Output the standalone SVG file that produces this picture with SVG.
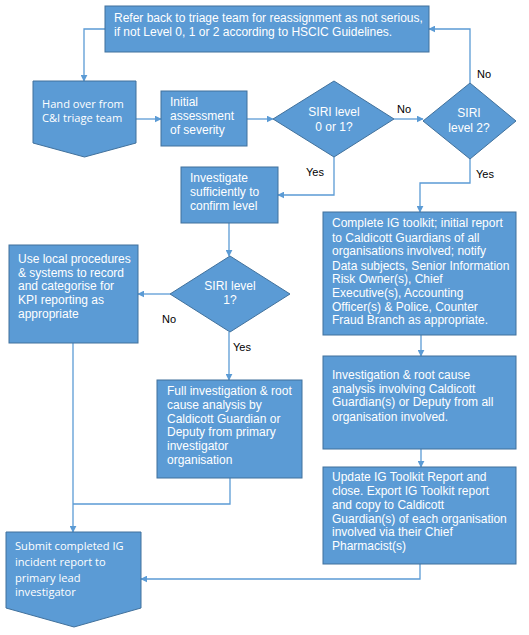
<svg xmlns="http://www.w3.org/2000/svg" width="529" height="635" viewBox="0 0 529 635">
<defs>
<marker id="ah" viewBox="0 0 10 10" refX="9" refY="5" markerWidth="7" markerHeight="7" markerUnits="userSpaceOnUse" orient="auto">
<path d="M0,0 L10,5 L0,10 z" fill="#5B9BD5"/>
</marker>
<style>
.n{fill:#5B9BD5;stroke:#41719C;stroke-width:1}
.t{font-family:"Liberation Sans",Arial,sans-serif;font-size:12px;fill:#fff}
.s{font-family:"Open Sans","Noto Sans",sans-serif;font-size:11.1px;fill:#fff}
.c{fill:none;stroke:#5B9BD5;stroke-width:1.3;marker-end:url(#ah)}
.l{fill:none;stroke:#5B9BD5;stroke-width:1.3}
.lb{font-family:"Liberation Sans",Arial,sans-serif;font-size:11px;fill:#000}
</style>
</defs>
<g id="connectors">
<path class="c" d="M105,29 H84 V81"/>
<path class="c" d="M136,119 H161"/>
<path class="c" d="M247,119 H273"/>
<path class="c" d="M394,119 H423"/>
<path class="c" d="M470,83 V29 H429"/>
<path class="c" d="M334,157 V195 H278"/>
<path class="c" d="M470,159 V183 H420 V212"/>
<path class="c" d="M229,223 V256"/>
<path class="c" d="M170,294 H138"/>
<path class="c" d="M229,332 V380"/>
<path class="c" d="M421,335 V356"/>
<path class="c" d="M421,449 V467"/>
<path class="l" d="M230,478 V504 H73"/>
<path class="c" d="M73,343 V532"/>
<path class="c" d="M420,564 V579 H141"/>
</g>
<g id="labels">
<text class="lb" x="397" y="113">No</text>
<text class="lb" x="477" y="78">No</text>
<text class="lb" x="306" y="176">Yes</text>
<text class="lb" x="476" y="178">Yes</text>
<text class="lb" x="162" y="323">No</text>
<text class="lb" x="233" y="351">Yes</text>
</g>
<g id="refer">
<rect class="n" x="105" y="6" width="324" height="46"/>
<text class="t" x="114" y="21.5">Refer back to triage team for reassignment as not serious,</text>
<text class="t" x="114" y="35.5">if not Level 0, 1 or 2 according to HSCIC Guidelines.</text>
</g>
<g id="handover">
<path class="n" d="M33,81 H136 V143 L84.5,157 L33,143 Z"/>
<text class="s" x="42" y="108">Hand over from</text>
<text class="s" x="42" y="122">C&amp;I triage team</text>
</g>
<g id="initial">
<rect class="n" x="161" y="91" width="86" height="55"/>
<text class="t" x="170" y="106">Initial</text>
<text class="t" x="170" y="120">assessment</text>
<text class="t" x="170" y="133.5">of severity</text>
</g>
<g id="siri01">
<path class="n" d="M334,81 L394,119 L334,157 L273,119 Z"/>
<text class="t" x="334" y="116" text-anchor="middle">SIRI level</text>
<text class="t" x="334" y="131" text-anchor="middle">0 or 1?</text>
</g>
<g id="siri2">
<path class="n" d="M470,83 L516,121 L470,159 L423,121 Z"/>
<text class="t" x="469" y="117" text-anchor="middle">SIRI</text>
<text class="t" x="469" y="132" text-anchor="middle">level 2?</text>
</g>
<g id="investigate">
<rect class="n" x="181" y="167" width="97" height="56"/>
<text class="t" x="190" y="182">Investigate</text>
<text class="t" x="190" y="196">sufficiently to</text>
<text class="t" x="190" y="209.5">confirm level</text>
</g>
<g id="siri1">
<path class="n" d="M230,256 L290,294 L230,332 L170,294 Z"/>
<text class="t" x="230" y="290" text-anchor="middle">SIRI level</text>
<text class="t" x="230" y="304" text-anchor="middle">1?</text>
</g>
<g id="uselocal">
<rect class="n" x="9" y="245" width="129" height="98"/>
<text class="t" x="18" y="263">Use local procedures</text>
<text class="t" x="18" y="277">&amp; systems to record</text>
<text class="t" x="18" y="290">and categorise for</text>
<text class="t" x="18" y="304">KPI reporting as</text>
<text class="t" x="18" y="318">appropriate</text>
</g>
<g id="complete">
<rect class="n" x="323" y="212" width="193" height="123"/>
<text class="t" x="332" y="227">Complete IG toolkit; initial report</text>
<text class="t" x="332" y="242">to Caldicott Guardians of all</text>
<text class="t" x="332" y="255">organisations involved; notify</text>
<text class="t" x="332" y="270">Data subjects, Senior Information</text>
<text class="t" x="332" y="283">Risk Owner(s), Chief</text>
<text class="t" x="332" y="297">Executive(s), Accounting</text>
<text class="t" x="332" y="311">Officer(s) &amp; Police, Counter</text>
<text class="t" x="332" y="324">Fraud Branch as appropriate.</text>
</g>
<g id="fullinv">
<rect class="n" x="157" y="380" width="145" height="98"/>
<text class="t" x="167" y="395">Full investigation &amp; root</text>
<text class="t" x="167" y="409">cause analysis by</text>
<text class="t" x="167" y="423">Caldicott Guardian or</text>
<text class="t" x="167" y="436">Deputy from primary</text>
<text class="t" x="167" y="450">investigator</text>
<text class="t" x="167" y="464">organisation</text>
</g>
<g id="rootcause">
<rect class="n" x="323" y="356" width="193" height="93"/>
<text class="t" x="332" y="379">Investigation &amp; root cause</text>
<text class="t" x="332" y="393">analysis involving Caldicott</text>
<text class="t" x="332" y="406">Guardian(s) or Deputy from all</text>
<text class="t" x="332" y="421">organisation involved.</text>
</g>
<g id="update">
<rect class="n" x="323" y="467" width="193" height="97"/>
<text class="t" x="332" y="481">Update IG Toolkit Report and</text>
<text class="t" x="332" y="495">close. Export IG Toolkit report</text>
<text class="t" x="332" y="509">and copy to Caldicott</text>
<text class="t" x="332" y="523">Guardian(s) of each organisation</text>
<text class="t" x="332" y="536">involved via their Chief</text>
<text class="t" x="332" y="550">Pharmacist(s)</text>
</g>
<g id="submit">
<path class="n" d="M6,532 H141 V608 L74,627 L6,608 Z"/>
<text class="s" x="15" y="550">Submit completed IG</text>
<text class="s" x="15" y="566">incident report to</text>
<text class="s" x="15" y="582">primary lead</text>
<text class="s" x="15" y="596">investigator</text>
</g>
</svg>
